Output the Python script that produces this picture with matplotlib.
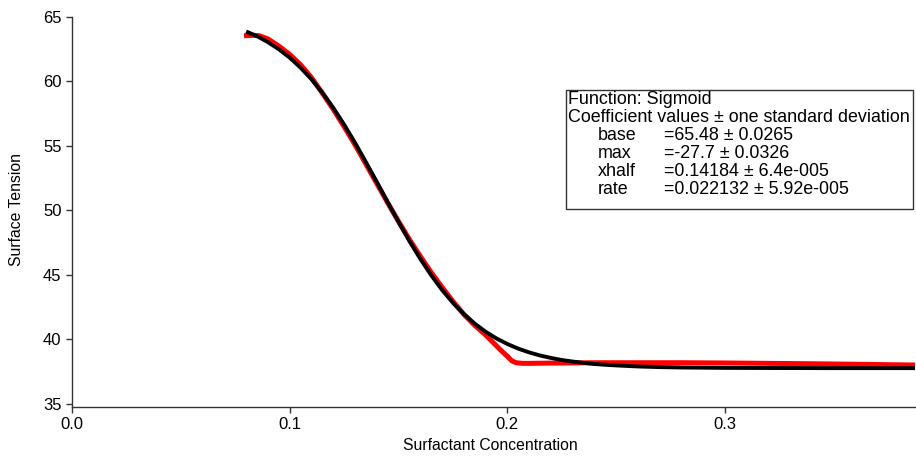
import matplotlib
matplotlib.use("Agg")
import matplotlib.pyplot as plt
from matplotlib.patches import Rectangle

plt.rcParams['font.family'] = ['Liberation Sans', 'DejaVu Sans']

# measured data (red)
data_x = [0.079, 0.083, 0.086, 0.090, 0.095, 0.100, 0.105, 0.110, 0.115, 0.120,
          0.125, 0.130, 0.135, 0.140, 0.145, 0.150, 0.155, 0.160, 0.165, 0.170,
          0.175, 0.180, 0.185, 0.190, 0.195, 0.198, 0.200, 0.202, 0.204, 0.207,
          0.210, 0.220, 0.240, 0.260, 0.280, 0.300, 0.320, 0.340, 0.360, 0.388]
data_y = [63.55, 63.58, 63.55, 63.30, 62.75, 62.10, 61.30, 60.30, 59.10, 57.85,
          56.50, 55.10, 53.60, 52.10, 50.60, 49.15, 47.75, 46.45, 45.20, 44.05,
          42.95, 41.95, 41.10, 40.35, 39.50, 39.00, 38.70, 38.35, 38.20, 38.15,
          38.15, 38.17, 38.20, 38.20, 38.20, 38.18, 38.15, 38.12, 38.08, 38.02]

# fitted sigmoid curve (black)
fit_x = [0.080, 0.085, 0.090, 0.095, 0.100, 0.105, 0.110, 0.115, 0.120, 0.125,
         0.130, 0.135, 0.140, 0.145, 0.150, 0.155, 0.160, 0.165, 0.170, 0.175,
         0.180, 0.185, 0.190, 0.195, 0.200, 0.205, 0.210, 0.215, 0.220, 0.225,
         0.230, 0.235, 0.240, 0.245, 0.250, 0.260, 0.270, 0.280, 0.300, 0.320,
         0.350, 0.388]
fit_y = [63.88, 63.51, 63.05, 62.50, 61.85, 61.07, 60.17, 59.13, 57.96, 56.66,
         55.25, 53.75, 52.21, 50.64, 49.11, 47.63, 46.25, 44.98, 43.84, 42.84,
         41.97, 41.23, 40.60, 40.08, 39.65, 39.29, 39.00, 38.76, 38.57, 38.41,
         38.29, 38.19, 38.10, 38.04, 37.99, 37.91, 37.86, 37.83, 37.80, 37.79,
         37.78, 37.78]

x_ticks = [0.0, 0.1, 0.2, 0.3]
x_tick_labels = ["0.0", "0.1", "0.2", "0.3"]
y_ticks = [35, 40, 45, 50, 55, 60, 65]

legend_head = ["Function: Sigmoid", "Coefficient values \u00b1 one standard deviation"]
coef_names = ["base", "max", "xhalf", "rate"]
coef_values = ["=65.48 \u00b1 0.0265", "=-27.7 \u00b1 0.0326",
               "=0.14184 \u00b1 6.4e-005", "=0.022132 \u00b1 5.92e-005"]

W, H = 916, 462
fig = plt.figure(figsize=(W / 100, H / 100), dpi=100)
ax = fig.add_axes([72 / W, (H - 407) / H, 843 / W, 390 / H])

ax.plot(data_x, data_y, color='#ff0000', lw=3.6, solid_capstyle='butt', zorder=2)
ax.plot(fit_x, fit_y, color='black', lw=2.8, solid_capstyle='butt', zorder=3)

ax.set_xlim(0, 843 / 2177)
ax.set_ylim(35 - 3 / 12.9, 65)
ax.set_xticks(x_ticks)
ax.set_xticklabels(x_tick_labels)
ax.set_yticks(y_ticks)
for s in ['top', 'right']:
    ax.spines[s].set_visible(False)
for s in ['left', 'bottom']:
    ax.spines[s].set_color('#333333')
    ax.spines[s].set_linewidth(1.0)
ax.tick_params(direction='out', length=4.5, width=1.0, color='#333333',
               labelsize=12, pad=3)

fig.text(490 / W, (H - 446) / H, "Surfactant Concentration", fontsize=11.3,
         ha='center', va='center')
fig.text(17 / W, (H - 210) / H, "Surface Tension", fontsize=11.3, rotation=90,
         ha='center', va='center')

# annotation box
bx0, by0, bx1, by1 = 566, 90, 913, 209
fig.patches.append(Rectangle((bx0 / W, (H - by1) / H), (bx1 - bx0) / W, (by1 - by0) / H,
                             transform=fig.transFigure, facecolor='white',
                             edgecolor='#333333', lw=1.0, zorder=5))
fs = 12.9
line_y = [100, 118, 136, 154, 172, 190]
for i, t in enumerate(legend_head):
    fig.text(568 / W, (H - line_y[i]) / H, t, fontsize=fs, va='center', ha='left', zorder=6)
for i, (n, v) in enumerate(zip(coef_names, coef_values)):
    yy = (H - line_y[i + 2]) / H
    fig.text(598 / W, yy, n, fontsize=fs, va='center', ha='left', zorder=6)
    fig.text(664 / W, yy, v, fontsize=fs, va='center', ha='left', zorder=6)

fig.savefig("out.png", dpi=100)
